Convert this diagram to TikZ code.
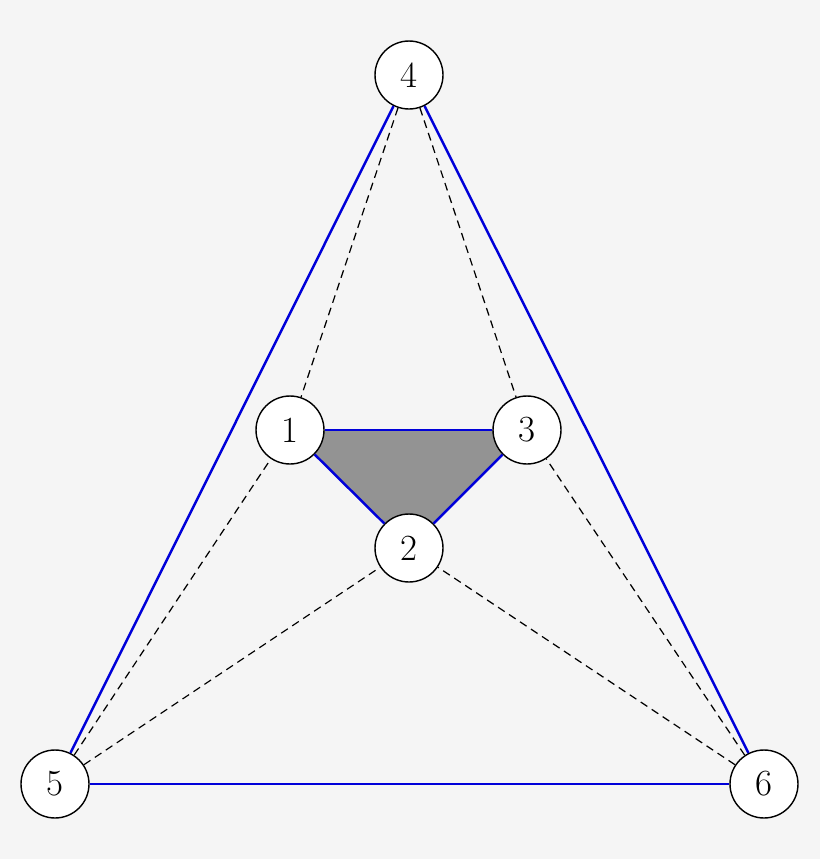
\documentclass[tikz,border=0pt]{standalone}
\begin{document}
\begin{tikzpicture}[x=0.02cm,y=-0.02cm,
  vert/.style={circle,draw,fill=white,line width=0.8pt,minimum size=1.36cm,inner sep=0pt,font=\fontsize{21}{24}\selectfont},
  blu/.style={draw=blue!85!black,line width=1.4pt},
  dsh/.style={dash pattern=on 4.5pt off 3pt,line width=0.7pt}]
\fill[gray!8] (0,0) rectangle (820,859);
\useasboundingbox (0,0) rectangle (820,859);
\coordinate (c1) at (290,430);
\coordinate (c2) at (409,548);
\coordinate (c3) at (527,430);
\fill[gray!85] (c1) -- (c3) -- (c2) -- cycle;
\node[vert] (n4) at (409,75) {4};
\node[vert] (n1) at (c1) {1};
\node[vert] (n3) at (c3) {3};
\node[vert] (n2) at (c2) {2};
\node[vert] (n5) at (55,784) {5};
\node[vert] (n6) at (764,784) {6};
\draw[dsh] (n4) -- (n1);
\draw[dsh] (n4) -- (n3);
\draw[dsh] (n5) -- (n1);
\draw[dsh] (n5) -- (n2);
\draw[dsh] (n6) -- (n2);
\draw[dsh] (n6) -- (n3);
\draw[blu] (n4) -- (n5);
\draw[blu] (n4) -- (n6);
\draw[blu] (n5) -- (n6);
\draw[blu] (n1) -- (n3);
\draw[blu] (n1) -- (n2);
\draw[blu] (n3) -- (n2);
\end{tikzpicture}
\end{document}
